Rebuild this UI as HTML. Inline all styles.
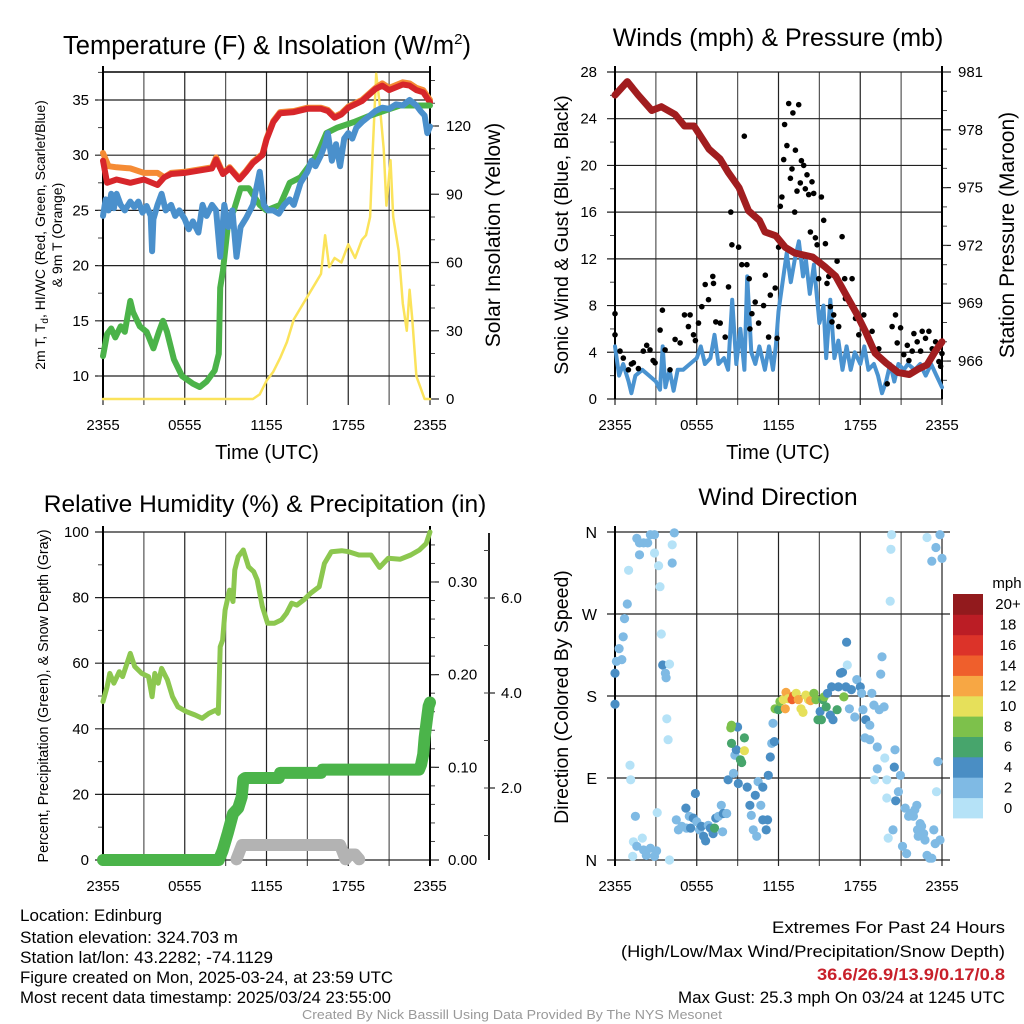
<!DOCTYPE html>
<html><head><meta charset="utf-8">
<style>
html,body{margin:0;padding:0;background:#fff;width:1024px;height:1024px;overflow:hidden}
svg text{font-family:"Liberation Sans",sans-serif}
</style></head>
<body>
<svg id="fig" xmlns="http://www.w3.org/2000/svg" width="1024" height="1024" viewBox="0 0 1024 1024">
<rect x="0" y="0" width="1024" height="1024" fill="#fff"/>
<g id="p1"></g>
<g id="p2"></g>
<g id="p3"></g>
<g id="p4"></g>
<g font-size="17" fill="#000" lengthAdjust="spacingAndGlyphs">
<text x="20" y="921" textLength="142" lengthAdjust="spacingAndGlyphs">Location: Edinburg</text>
<text x="20" y="943" textLength="218" lengthAdjust="spacingAndGlyphs">Station elevation: 324.703 m</text>
<text x="20" y="963" textLength="253" lengthAdjust="spacingAndGlyphs">Station lat/lon: 43.2282; -74.1129</text>
<text x="20" y="983" textLength="373" lengthAdjust="spacingAndGlyphs">Figure created on Mon, 2025-03-24, at 23:59 UTC</text>
<text x="20" y="1003" textLength="371" lengthAdjust="spacingAndGlyphs">Most recent data timestamp: 2025/03/24 23:55:00</text>
</g>
<g font-size="17">
<text x="772" y="933" textLength="233" lengthAdjust="spacingAndGlyphs">Extremes For Past 24 Hours</text>
<text x="621" y="957" textLength="384" lengthAdjust="spacingAndGlyphs">(High/Low/Max Wind/Precipitation/Snow Depth)</text>
<text x="817" y="980" textLength="188" lengthAdjust="spacingAndGlyphs" fill="#c8202a" font-weight="bold">36.6/26.9/13.9/0.17/0.8</text>
<text x="678" y="1003" textLength="327" lengthAdjust="spacingAndGlyphs">Max Gust: 25.3 mph On 03/24 at 1245 UTC</text>
</g>
<text x="302" y="1019" font-size="13" fill="#999" textLength="420" lengthAdjust="spacingAndGlyphs">Created By Nick Bassill Using Data Provided By The NYS Mesonet</text>
</svg>
<script>
// ---------- data ----------
const xTickLabels = ["2355","0555","1155","1755","2355"];
const tempTicks = [10,15,20,25,30,35];
const insTicks = [0,30,60,90,120];
const windTicks = [0,4,8,12,16,20,24,28];
const presTicks = [966,969,972,975,978,981];
const rhTicks = [0,20,40,60,80,100];
const precTicks = [0.00,0.10,0.20,0.30];
const snowTicks = [2.0,4.0,6.0];
const dirTicks = ["N","E","S","W","N"];
const speedLabels = ["0","2","4","6","8","10","12","14","16","18","20+"];

const redT = [0,0.3,1,2,3,4,4.5,5,6,7,8,8.3,8.8,9.3,10,10.5,11,11.7,12,12.5,13,14,15,16,16.5,17,17.5,18,19,20,20.5,21,22,22.5,23,23.5,24];
const redV = [29.5,27.5,27.8,27.5,27.8,27.3,28,28.3,28.4,28.6,28.8,29.6,28.3,28.8,27.8,28.5,29.3,30,31.4,33,33.8,33.9,34.2,34.2,34,33.4,33.7,34.3,34.9,36,36.3,35.9,36.4,36.3,35.9,35.7,34.8];
const oraT = [0,0.4,1,2,3,4,4.5,5,6,7,8,8.3,8.8,9.3,10,10.5,11,11.7,12,12.5,13,14,15,16,16.5,17,17.5,18,19,20,20.5,21,22,22.5,23,23.5,24];
const oraV = [30.2,29,28.9,28.8,28.4,28.4,28,28.4,28.5,28.7,28.9,29.8,28.4,28.9,27.9,28.6,29.4,30.1,31.5,33.1,33.9,34,34.3,34.3,34.1,33.5,33.8,34.4,35,36.1,36.5,36.1,36.6,36.5,36.1,35.9,35];
const blueT = [0,0.2,0.4,0.6,0.8,1,1.3,1.6,2,2.3,2.6,2.9,3.2,3.5,3.6,3.7,4,4.3,4.6,5,5.3,5.6,6,6.3,6.6,7,7.3,7.6,8,8.3,8.6,8.9,9.2,9.5,9.8,10.1,10.5,11,11.5,11.8,12.1,12.5,12.9,13.3,13.7,14,14.5,15,15.3,15.6,16,16.3,16.5,16.8,17.1,17.4,17.7,18,18.3,18.6,19,19.5,20,20.5,21,21.5,22,22.5,23,23.3,23.6,23.8,24];
const blueV = [24.5,26,25,26.5,25.2,26.5,25.5,25,25.8,25.3,25.8,24.8,25.4,24.5,21.3,24.2,25.5,26.5,25,25.5,24.5,25,24.2,23.3,24,23,25.5,24.5,25.5,25,20.8,25.5,23.5,25,20.8,23.5,24.3,25.5,28.5,25.5,25,25,24.7,25.5,26,25.5,27.5,28.5,29.5,29,30,31,32,29.5,31,29,31.5,32,31.5,32.5,33,33.5,34,34.3,34.2,34.6,34.5,35,34.5,34,33.6,32,32.6];
const greenT = [0,0.3,0.6,0.9,1.3,1.6,2,2.2,2.7,3.2,3.7,4.1,4.4,4.7,5.2,5.8,6.6,7.1,7.6,8.2,8.5,8.6,8.8,9.2,9.6,10.1,10.7,11.5,12,13,13.7,14.5,15.7,16.4,17.2,18.4,19.4,20.6,21.8,23,24];
const greenV = [11.8,13.8,14.3,13.5,14.5,14,16.8,15.8,14.5,14,12.5,14,15,14,11.5,10,9.3,9,9.5,10.5,12,18,19.5,24,25,27,27,25.5,25,25.5,27.5,28,30,32,32.5,33,33.5,34,34.5,34.5,34.5];
const insT = [0,11,11.5,12,12.5,13,13.5,14,14.5,15,15.5,16,16.3,16.6,17,17.5,18,18.5,19,19.3,19.6,19.8,20.05,20.3,20.6,20.8,21.1,21.3,21.7,22,22.3,22.5,22.7,23,23.3,23.6,24];
const insV = [0,0,2,8,12,18,25,35,40,45,50,55,72,58,62,60,68,62,70,72,80,110,143,130,110,85,105,80,65,42,30,48,35,10,5,0,0];

const presT = [0,0.9,1.7,2.7,3.4,4.4,5.1,5.8,6.9,7.7,8.3,9.1,9.8,10.6,11,11.8,12.5,13.2,14.5,15.4,16.2,16.9,17.7,18.4,19.1,19.9,20.8,21.6,22.3,22.9,23.5,24];
const presV = [979.8,980.5,979.8,979.0,979.2,978.8,978.2,978.2,977.0,976.5,975.8,975.0,973.8,973.3,972.7,972.5,971.9,971.6,971.4,970.9,970.4,969.5,968.5,967.5,966.4,965.9,965.4,965.3,965.6,965.8,966.5,967.0];
const windT = [0,0.3,0.6,1,1.2,1.5,2,2.5,3,3.3,3.5,3.7,4,4.3,4.6,5,5.5,6,6.3,6.6,7,7.3,7.6,8,8.3,8.6,8.9,9.2,9.5,9.7,10,10.3,10.6,11,11.3,11.6,11.8,12,12.3,12.6,12.9,13.2,13.5,13.8,14,14.3,14.6,15,15.3,15.5,15.8,16.1,16.4,16.7,17,17.3,17.6,18,18.3,18.6,19,19.3,19.6,19.9,20.2,20.5,20.8,21.2,21.5,22,22.4,22.8,23.2,23.6,24];
const windV = [4.5,2,3,1.5,0.5,2,2.5,2,1.5,0.8,4.5,1,2.5,0.7,2.5,2.5,3,3.5,4.5,3,3.5,5.5,3,3.5,2.5,8.5,3,6,2.5,10.5,4,3,4.5,2.5,4.5,2.5,4.5,7.5,10,12.5,10,12,13.5,10.5,12,9,11.5,6.5,8,3.5,8.5,3.5,5,2.5,4.5,2.5,4,3,4.5,2.5,3,2,0.5,1.5,3,1.5,3,2.5,3,2.5,3,2,3,2,1];
const gustT = [0,0,0.37,0.61,0.98,1.35,1.72,2.08,2.33,2.57,2.94,3.31,3.48,3.68,4.04,4.41,4.78,5.1,5.39,5.51,5.76,6.13,6.37,6.62,6.86,7.18,7.23,7.4,7.72,8.09,8.33,8.5,8.58,9.07,9.31,9.49,9.68,9.85,10.05,10.29,10.54,10.91,11.03,11.27,11.4,11.76,12.01,12.13,12.25,12.38,12.45,12.62,12.75,12.87,12.99,13.06,13.19,13.24,13.36,13.48,13.6,13.68,13.85,13.97,14.09,14.22,14.34,14.46,14.58,14.71,14.83,14.95,15.15,15.32,15.44,15.56,15.69,15.81,15.93,16.05,16.3,16.42,16.67,16.86,16.91,17.4,17.65,17.89,18.26,18.5,18.87,19.0,19.36,19.98,20.34,20.59,20.71,20.96,21.2,21.45,21.57,21.81,21.94,22.18,22.43,22.55,22.79,23.04,23.28,23.53,23.77,24,23.9,1.2,2.8,5.9,9.9,11.9];
const gustV = [7.3,5.5,4.1,3.5,2.5,3.1,2.6,4.1,4.6,4.2,3.1,5.9,7.6,4.2,2.5,5.1,4.8,7.2,6.2,7.2,5.5,6.5,7.9,9.8,8.5,10.5,9.9,6.6,6.5,5.3,9.6,16,13.2,13,11.5,22.5,11.5,10.3,7.3,8.3,6.5,8,10.6,5.3,8.9,9.5,13,16.5,17.3,20.5,23.5,21.7,25.3,18.9,19.7,24.5,16,21.3,17.8,25.2,18.5,20.4,20,18,19.2,17.5,14.3,18.6,17.6,13.8,13.2,10.3,17.3,15.3,13.3,9.9,10.5,7.9,6.6,7.2,11.8,6.2,13.9,10.3,8.6,10.3,6.9,5.5,7.2,5.6,5.8,4.1,4.3,1.3,6.2,7.2,4.8,6.1,3.8,4.6,3.3,4.1,5.6,4.9,4.1,5.8,5.2,5.8,4.3,4.9,3.2,3.9,2.8,3.0,3.3,5.0,6.0,5.2];

const rhT = [0,0.3,0.5,0.8,1.2,1.44,2.0,2.33,2.84,3.34,3.6,3.8,4.05,4.3,4.73,5.1,5.5,6.13,6.76,7.27,7.77,8.28,8.46,8.6,8.78,8.96,9.29,9.54,9.67,9.92,10.3,10.68,11.06,11.32,11.7,12.08,12.58,13.09,13.47,13.85,14.23,14.73,15.24,15.87,16.25,16.76,17.52,18.03,18.78,19.67,20.3,20.94,21.82,22.58,23.22,23.72,24];
const rhV = [48.3,52.8,56.9,53.9,57.4,55.9,63,59,56.9,55.9,49.8,56.9,53.9,58.4,54.9,49.8,46.7,45.2,44.2,43.2,44.7,45.7,44.7,65,67,76.2,82.3,78.8,88.4,92.5,94.5,89.4,87.9,85.4,77.2,72.2,72.2,73.2,75.2,78.3,77.7,79.3,81.3,83.3,90.4,94,94.3,94,93,93,89.2,92,91.7,93,94.5,96.5,100];
const precT = [0,8.5,8.78,9.16,9.54,9.92,10.18,10.3,10.43,12.9,13.0,16.0,16.1,23.2,23.35,23.5,23.6,23.7,23.8,23.9,24];
const precV = [0,0,0.01,0.029,0.05,0.056,0.068,0.087,0.0885,0.0885,0.094,0.094,0.0975,0.0975,0.103,0.114,0.132,0.143,0.155,0.166,0.17];
const snowT = [9.8,10.2,17.4,17.8,18.1,18.5,18.8];
const snowV = [0.5,0.8,0.8,0.5,0.6,0.6,0.5];

const dirT = [0,0,0.1,0.3,0.5,0.6,0.7,0.9,1.0,1.1,1.15,1.5,1.35,1.6,1.3,2.0,2.1,2.3,2.6,2.9,3.05,3.1,1.6,1.8,2.1,2.4,2.6,2.9,1.8,2.9,3.2,3.3,4.2,4.2,4.35,4.0,3.4,3.5,3.7,3.75,4.0,3.8,3.9,
4.5,4.65,4.9,5.2,5.25,5.45,5.55,5.75,5.9,6.0,6.2,6.35,6.5,6.65,6.85,7.0,7.2,7.3,7.4,7.6,7.8,7.95,7.9,8.2,8.3,8.7,8.8,8.9,9.0,8.55,8.5,8.55,9.2,9.3,9.5,9.5,9.05,9.7,9.9,10.0,10.15,10.3,10.4,10.5,10.7,10.85,10.85,11.1,11.2,11.25,11.4,11.5,11.7,11.6,
11.75,12.0,12.1,12.35,12.5,12.55,12.7,13.0,13.1,13.3,13.45,13.65,13.8,14.0,14.2,14.35,14.6,14.75,14.9,15.05,15.25,15.15,15.35,15.5,15.6,15.8,15.9,16.0,16.3,16.4,16.55,16.7,16.8,16.95,17.05,17.0,17.2,17.35,17.6,17.75,18.0,18.1,18.2,18.4,18.7,18.85,19.0,19.4,19.6,19.5,19.75,18.35,18.7,19.25,19.05,19.25,19.8,19.95,19.95,20.05,20.2,20.25,20.3,20.4,20.55,20.5,20.6,20.8,20.95,21.1,21.3,21.55,21.4,21.7,22.0,22.15,22.2,22.4,22.5,22.65,22.75,22.9,23.1,23.25,23.4,23.5,23.6,23.7,23.85,22.9,23.25,23.55,23.85,24,21.9,22.25];
const dirV = [205,171,218,232,220,245,265,281,318,104,88,48,20,15,4,24,11,5,13,4,10,52,353,348,348,348,357,357,335,337,323,300,346,326,359,0,248,214,205,200,215,155,132,
44,33,37,57,35,48,35,46,73,42,33,37,26,21,38,35,29,35,46,48,60,51,31,51,88,95,115,121,146,128,145,148,110,107,134,120,84,80,60,49,33,71,26,86,60,80,44,33,44,93,113,128,130,150,
166,165,174,176,166,184,177,176,180,183,176,166,162,181,176,175,183,176,154,163,176,154,179,168,183,159,190,154,165,190,205,206,179,190,214,239,166,187,157,198,190,183,165,154,148,183,170,165,223,204,168,134,132,124,88,100,112,88,68,24,284,341,357,33,121,102,65,75,93,15,57,48,7,51,55,60,33,40,37,29,22,5,2,2,33,18,75,108,22,354,328,343,357,331,48,26];
const dirS = [5,5,3,3,3,3,3,3,1,1,1,3,1,3,1,1,3,3,3,3,3,1,3,3,3,3,3,3,3,1,1,1,1,3,3,1,1,5,3,3,1,1,1,
3,3,3,5,3,3,5,5,5,3,3,5,5,5,3,5,5,7,5,3,3,5,3,3,5,3,3,5,5,7,9,9,7,7,7,11,5,5,5,3,3,5,3,3,3,5,5,5,5,5,5,3,5,3,
9,7,9,11,13,13,11,15,15,11,13,11,11,11,11,13,9,9,7,5,7,7,9,7,5,5,5,5,7,5,5,5,9,5,1,5,3,5,3,3,5,3,3,5,3,3,3,3,3,3,3,3,3,3,1,3,1,1,1,1,1,1,0.5,3,3,5,5,3,3,3,3,3,3,3,3,3,3,3,3,3,3,3,3,3,3,3,1,3,3,1,3,3,3,3,3,3,3];

// ---------- helpers ----------
const NS = "http://www.w3.org/2000/svg";
function mk(parent, tag, attrs){
  const el = document.createElementNS(NS, tag);
  for (const k in attrs) el.setAttribute(k, attrs[k]);
  parent.appendChild(el);
  return el;
}
function txt(parent, x, y, s, size, anchor, name, extra){
  const el = mk(parent, "text", Object.assign({x:x, y:y, "font-size":size, "text-anchor":anchor||"middle", fill:"#000"}, extra||{}));
  el.textContent = s;
  
  
  return el;
}
function ln(parent, x1, y1, x2, y2, col, w, name){
  const el = mk(parent, "line", {x1:x1, y1:y1, x2:x2, y2:y2, stroke:col, "stroke-width":w});
  
  
  return el;
}
function poly(parent, xs, ys, col, w, name){
  let pts = [];
  for (let i = 0; i < xs.length; i++) pts.push(xs[i].toFixed(1) + "," + ys[i].toFixed(1));
  const el = mk(parent, "polyline", {points: pts.join(" "), fill:"none", stroke:col, "stroke-width":w, "stroke-linejoin":"round", "stroke-linecap":"round"});
  
  
  return el;
}
function frameX(g, x0, x1, yTop, yBot, labelY){
  const xs = t => x0 + t * (x1 - x0) / 24;
  for (let h = 0; h <= 24; h += 3) {
    ln(g, xs(h), yTop, xs(h), yBot + 6, h % 6 ? "#555" : "#222", 1.2, "x-gridline");
  }
  for (let i = 0; i < xTickLabels.length; i++) {
    txt(g, xs(i * 6), labelY, xTickLabels[i], 15, "middle", "x-tick-label");
  }
  return xs;
}

// ---------- panel 1 ----------
(function(){
  const g = document.getElementById("p1");
  const x0 = 103, x1 = 430, yTop = 72, yBot = 399;
  const tY = v => 100 + (35 - v) * 11.04;
  const iY = v => 399 - v * 2.275;
  const xs = frameX(g, x0, x1, yTop, yBot, 430);
  for (const v of tempTicks) { ln(g, x0 - 8, tY(v), x1, tY(v), "#222", 1.2, "y-gridline"); txt(g, 89, tY(v) + 5, String(v), 15, "end", "y-tick-label"); }
  for (let v = 10; v <= 37.5; v += 2.5) ln(g, x0 - 5, tY(v), x0, tY(v), "#444", 1, "y-minor-tick");
  for (const v of insTicks) { ln(g, x1, iY(v), x1 + 9, iY(v), "#222", 1.2, "y2-tick"); txt(g, 446, iY(v) + 5, String(v), 15, "start", "y2-tick-label"); }
  for (let v = 10; v <= 140; v += 10) ln(g, x1, iY(v), x1 + 5, iY(v), "#444", 1, "y2-minor-tick");
  ln(g, x0, yTop, x1, yTop, "#000", 1.5, "top-frame");
  ln(g, x0, yTop - 6, x0, yBot, "#000", 2, "y-axis");
  ln(g, x1, yTop - 6, x1, yBot, "#000", 2, "y2-axis");
  poly(g, insT.map(xs), insV.map(iY), "#fbe35b", 2.5, "insolation-line");
  poly(g, oraT.map(xs), oraV.map(tY), "#f58b35", 6, "9m-temp-line");
  poly(g, redT.map(xs), redV.map(tY), "#d7262b", 6, "2m-temp-line");
  poly(g, greenT.map(xs), greenV.map(tY), "#4bb349", 6, "dewpoint-line");
  poly(g, blueT.map(xs), blueV.map(tY), "#4a90cc", 6, "windchill-line");
  const t = txt(g, 267, 54, "Temperature (F) & Insolation (W/m", 25.5, "middle", "panel-title");
  const sup = mk(t, "tspan", {"font-size":15, dy:-10}); sup.textContent = "2";
  
  
  const sup2 = mk(t, "tspan", {dy:10}); sup2.textContent = ")";
  
  
  const yt = txt(g, 0, 0, "2m T, T", 14, "middle", "y-axis-title", {transform:"translate(45,235) rotate(-90)"});
  const sb = mk(yt, "tspan", {"font-size":10, dy:3}); sb.textContent = "d";
  
  
  const sb2 = mk(yt, "tspan", {dy:-3}); sb2.textContent = ", HI/WC (Red, Green, Scarlet/Blue)";
  
  
  txt(g, 0, 0, "& 9m T (Orange)", 14, "middle", "y-axis-title-line2", {transform:"translate(62,235) rotate(-90)"});
  txt(g, 0, 0, "Solar Insolation (Yellow)", 21, "middle", "y2-axis-title", {transform:"translate(500,235) rotate(-90)"});
  txt(g, 267, 459, "Time (UTC)", 20, "middle", "x-axis-title");
})();

// ---------- panel 2 ----------
(function(){
  const g = document.getElementById("p2");
  const x0 = 615, x1 = 942, yTop = 72, yBot = 399;
  const wY = v => 399 - v * 11.679;
  const pY = v => 72 + (981 - v) * 19.27;
  const xs = frameX(g, x0, x1, yTop, yBot, 430);
  for (const v of windTicks) { ln(g, x0 - 8, wY(v), x1, wY(v), "#222", 1.2, "y-gridline"); txt(g, 597, wY(v) + 5, String(v), 15, "end", "y-tick-label"); }
  for (let v = 2; v < 28; v += 4) ln(g, x0 - 5, wY(v), x0, wY(v), "#444", 1, "y-minor-tick");
  for (const v of presTicks) { ln(g, x1, pY(v), x1 + 9, pY(v), "#222", 1.2, "y2-tick"); txt(g, 958, pY(v) + 5, String(v), 15, "start", "y2-tick-label"); }
  for (let v = 965; v <= 980; v += 1) ln(g, x1, pY(v), x1 + 5, pY(v), "#444", 1, "y2-minor-tick");
  ln(g, x0, yTop - 6, x0, yBot, "#000", 2, "y-axis");
  ln(g, x1, yTop - 6, x1, yBot, "#000", 2, "y2-axis");
  poly(g, windT.map(xs), windV.map(wY), "#4a93d0", 4, "sonic-wind-line");
  for (let i = 0; i < gustT.length; i++) {
    const c = mk(g, "circle", {cx:xs(gustT[i]).toFixed(1), cy:wY(gustV[i]).toFixed(1), r:2.8, fill:"#000"});
    
    
  }
  poly(g, presT.map(xs), presV.map(pY), "#a11d1f", 7, "pressure-line");
  txt(g, 778, 46, "Winds (mph) & Pressure (mb)", 25, "middle", "panel-title");
  txt(g, 0, 0, "Sonic Wind & Gust (Blue, Black)", 19.5, "middle", "y-axis-title", {transform:"translate(568,235) rotate(-90)"});
  txt(g, 0, 0, "Station Pressure (Maroon)", 21, "middle", "y2-axis-title", {transform:"translate(1014,235) rotate(-90)"});
  txt(g, 778, 459, "Time (UTC)", 20, "middle", "x-axis-title");
})();

// ---------- panel 3 ----------
(function(){
  const g = document.getElementById("p3");
  const x0 = 103, x1 = 430, yTop = 532, yBot = 860;
  const rY = v => 860 - v * 3.28;
  const prY = v => 860 - v * 926.7;
  const sY = v => 883 - v * 47.5;
  const xs = frameX(g, x0, x1, yTop, yBot, 891);
  for (const v of rhTicks) { ln(g, x0 - 8, rY(v), x1, rY(v), "#222", 1.2, "y-gridline"); txt(g, 89, rY(v) + 5, String(v), 15, "end", "y-tick-label"); }
  for (let v = 10; v < 100; v += 20) ln(g, x0 - 5, rY(v), x0, rY(v), "#444", 1, "y-minor-tick");
  for (const v of precTicks) { ln(g, x1, prY(v), x1 + 9, prY(v), "#222", 1.2, "y2-tick"); txt(g, 448, prY(v) + 5, v.toFixed(2), 15, "start", "y2-tick-label"); }
  for (let v = 0.02; v < 0.36; v += 0.02) ln(g, x1, prY(v), x1 + 5, prY(v), "#444", 1, "y2-minor-tick");
  ln(g, 489, 533, 489, 860, "#222", 2, "y3-axis");
  for (const v of snowTicks) { ln(g, 489, sY(v), 495, sY(v), "#222", 1.2, "y3-tick"); txt(g, 501, sY(v) + 5, v.toFixed(1), 15, "start", "y3-tick-label"); }
  for (let v = 1; v <= 7; v += 1) ln(g, 484, sY(v), 489, sY(v), "#444", 1, "y3-minor-tick");
  ln(g, x0, yTop - 6, x0, yBot, "#000", 2, "y-axis");
  ln(g, x1, yTop - 6, x1, yBot + 6, "#000", 2, "y2-axis");
  poly(g, rhT.map(xs), rhV.map(rY), "#8cc74f", 5, "humidity-line");
  poly(g, precT.map(xs), precV.map(prY), "#4bb44a", 12, "precipitation-line");
  poly(g, snowT.map(xs), snowV.map(sY), "#b3b3b3", 12, "snow-depth-line");
  txt(g, 265, 512, "Relative Humidity (%) & Precipitation (in)", 24.5, "middle", "panel-title");
  txt(g, 0, 0, "Percent, Precipitation (Green), & Snow Depth (Gray)", 14.3, "middle", "y-axis-title", {transform:"translate(48,696) rotate(-90)"});
})();

// ---------- panel 4 ----------
(function(){
  const g = document.getElementById("p4");
  const x0 = 615, x1 = 942, yTop = 532, yBot = 860;
  const dY = v => 860 - v * 0.9111;
  const xs = frameX(g, x0, x1, yTop, yBot, 891);
  for (let i = 0; i < dirTicks.length; i++) {
    const y = dY(i * 90);
    ln(g, x0 - 8, y, x1 + 8, y, "#222", 1.2, "y-gridline");
    txt(g, 597, y + 6, dirTicks[i], 16, "end", "y-tick-label");
  }
  ln(g, x0, yTop - 6, x0, yBot + 6, "#000", 2, "y-axis");
  const colors = ["#b5e2f7","#7fbae4","#4a8ec4","#47a56c","#7dc14b","#e6e05a","#f7a744","#ef5f2c","#dc3329","#bb1d25","#921a1d"];
  for (let i = 0; i < dirT.length; i++) {
    const k = Math.min(10, Math.floor(dirS[i] / 2));
    const c = mk(g, "circle", {cx:xs(dirT[i]).toFixed(1), cy:dY(dirV[i]).toFixed(1), r:4.6, fill:colors[k]});
    
    
  }
  const cb = mk(g, "g", {});
  
  
  const top = 594, h = (818 - 594) / 11;
  for (let i = 0; i < 11; i++) {
    const r = mk(cb, "rect", {x:953, y:(top + (10 - i) * h).toFixed(1), width:30, height:(h + 0.4).toFixed(1), fill:colors[i]});
    
    
    txt(cb, 1008, top + (10 - i) * h + h / 2 + 5, speedLabels[i], 15, "middle", "colorbar-label");
  }
  txt(cb, 1007, 588, "mph", 15, "middle", "colorbar-title");
  txt(g, 778, 505, "Wind Direction", 24.5, "middle", "panel-title");
  txt(g, 0, 0, "Direction (Colored By Speed)", 19.5, "middle", "y-axis-title", {transform:"translate(568,697) rotate(-90)"});
})();
</script>
</body></html>
